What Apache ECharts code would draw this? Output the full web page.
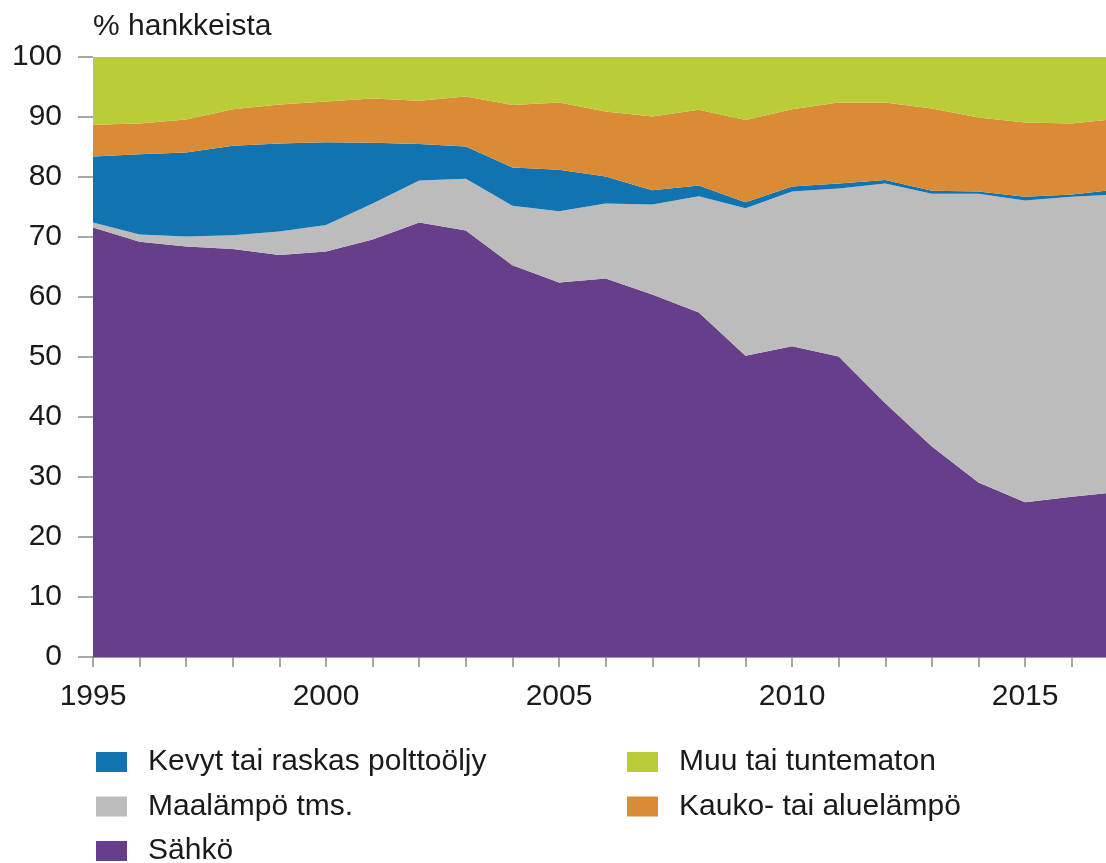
<!DOCTYPE html>
<html>
<head>
<meta charset="utf-8">
<script src="https://cdn.jsdelivr.net/npm/echarts@6/dist/echarts.min.js"></script>
<style>
html,body{margin:0;padding:0;background:#fff;}
#chart{width:1106px;height:863px;}
</style>
</head>
<body>
<div id="chart"></div>
<script>
const years = ['1995','1996','1997','1998','1999','2000','2001','2002','2003','2004','2005','2006','2007','2008','2009','2010','2011','2012','2013','2014','2015','2016','2017'];
const sahko      = [71.6,69.2,68.4,68.0,67.0,67.6,69.6,72.4,71.1,65.3,62.4,63.1,60.4,57.4,50.2,51.8,50.1,42.3,35.1,29.1,25.8,26.7,27.5];
const maalampo   = [0.8,1.2,1.7,2.3,3.9,4.4,6.0,7.0,8.6,9.9,11.9,12.5,15.0,19.4,24.6,25.8,28.0,36.6,42.1,48.1,50.3,50.0,49.6];
const oljy       = [11.0,13.4,14.0,14.9,14.7,13.8,10.1,6.1,5.4,6.4,6.9,4.5,2.4,1.8,1.0,0.8,0.8,0.6,0.5,0.4,0.6,0.4,0.8];
const kaukolampo = [5.3,5.1,5.5,6.1,6.5,6.8,7.4,7.2,8.3,10.4,11.2,10.8,12.3,12.6,13.7,12.9,13.5,12.9,13.7,12.3,12.4,11.8,11.8];
const muu        = [11.3,11.1,10.4,8.7,7.9,7.4,6.9,7.3,6.6,8.0,7.6,9.1,9.9,8.8,10.5,8.7,7.6,7.6,8.6,10.1,10.9,11.1,10.3];
const yTicks = [0,10,20,30,40,50,60,70,80,90,100];

const names = {
  sahko: 'Sähkö',
  maalampo: 'Maalämpö tms.',
  oljy: 'Kevyt tai raskas polttoöljy',
  kauko: 'Kauko- tai aluelämpö',
  muu: 'Muu tai tuntematon'
};
const colors = {
  sahko: '#673e8a',
  maalampo: '#bcbcbc',
  oljy: '#1173b0',
  kauko: '#db8b34',
  muu: '#bacd38'
};
const FONT = '"Liberation Sans", Arial, sans-serif';

function areaSeries(name, data, color) {
  return {
    name: name,
    type: 'line',
    stack: 'total',
    data: data,
    showSymbol: false,
    symbol: 'none',
    lineStyle: { width: 0, color: color },
    itemStyle: { color: color },
    areaStyle: { color: color, opacity: 1 },
    emphasis: { disabled: true },
    silent: true
  };
}

const legendText = {
  fontSize: 30,
  fontFamily: FONT,
  color: '#1a1a1a',
  lineHeight: 30,
  padding: [0, 0, 0, 16]
};

const chart = echarts.init(document.getElementById('chart'));
chart.setOption({
  animation: false,
  backgroundColor: '#ffffff',
  title: {
    text: '% hankkeista',
    left: 93,
    top: 12,
    padding: 0,
    textStyle: { fontSize: 30, fontWeight: 'normal', fontFamily: FONT, color: '#1a1a1a' }
  },
  grid: { left: 93, right: -12.3, top: 57, bottom: 206, containLabel: false, outerBoundsMode: 'none' },
  legend: [
    {
      data: [names.oljy, names.maalampo, names.sahko],
      orient: 'vertical',
      left: 96,
      top: 747,
      height: 140,
      padding: 0,
      itemGap: 14.5,
      itemWidth: 31,
      itemHeight: 20,
      icon: 'rect',
      selectedMode: false,
      textStyle: legendText
    },
    {
      data: [names.muu, names.kauko],
      orient: 'vertical',
      left: 627,
      top: 747,
      height: 140,
      padding: 0,
      itemGap: 14.5,
      itemWidth: 31,
      itemHeight: 20,
      icon: 'rect',
      selectedMode: false,
      textStyle: legendText
    }
  ],
  xAxis: {
    type: 'category',
    data: years,
    boundaryGap: false,
    axisLine: { show: true, lineStyle: { color: '#8a8a8a', width: 1.5 } },
    axisTick: { show: true, interval: 0, length: 10, lineStyle: { color: '#8a8a8a', width: 1.5 } },
    axisLabel: {
      interval: 4,
      margin: 25,
      fontSize: 30,
      fontFamily: FONT,
      color: '#1a1a1a'
    },
    splitLine: { show: false }
  },
  yAxis: {
    type: 'value',
    min: yTicks[0],
    max: yTicks[yTicks.length - 1],
    interval: 10,
    axisLine: { show: false },
    axisTick: { show: true, length: 15, lineStyle: { color: '#8a8a8a', width: 1.5 } },
    axisLabel: {
      margin: 31,
      fontSize: 30,
      fontFamily: FONT,
      color: '#1a1a1a'
    },
    splitLine: { show: true, lineStyle: { color: '#d0d0d0', width: 1 } }
  },
  series: [
    areaSeries(names.sahko, sahko, colors.sahko),
    areaSeries(names.maalampo, maalampo, colors.maalampo),
    areaSeries(names.oljy, oljy, colors.oljy),
    areaSeries(names.kauko, kaukolampo, colors.kauko),
    areaSeries(names.muu, muu, colors.muu)
  ]
});
</script>
</body>
</html>
